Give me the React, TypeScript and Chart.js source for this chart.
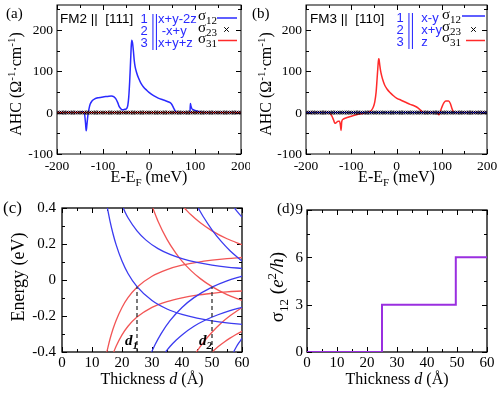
import React, { useEffect, useRef } from 'react';
import { Chart, registerables } from 'chart.js';
Chart.register(...registerables);

const SERIF = '"Liberation Serif", "DejaVu Serif", "Times New Roman", serif';
const SANS = '"Liberation Sans", Arial, Helvetica, sans-serif';
Chart.defaults.font.family = SERIF;
const BLUE = '#2a2aff';
const RED = '#ff2a2a';
const C_BLUE = '#3b3bf0';
const C_RED = '#f25555';
const PURPLE = '#9a2fe0';

// ---------- panels (a)/(b): AHC vs E-EF ----------
const AHC_X_TICKS = [-200, -100, 0, 100, 200];
const AHC_X_MINOR = [-150, -50, 50, 150];
const AHC_Y_TICKS = [-100, 0, 100, 200];
const AHC_Y_MINOR = [-50, 50, 150, 250];

const A_ENERGY = [-200, -150, -147, -143, -140, -138, -136.5, -135, -133, -131, -128, -124, -118, -110, -100, -90, -82, -76, -72, -68, -64, -60, -56, -52, -48, -46, -44, -42, -40, -38.5, -37.5, -36, -34, -32, -30, -27, -23, -18, -12, -5, 0, 10, 20, 30, 40, 46, 50, 54, 57, 60, 66, 89, 90, 91, 93, 96, 100, 110, 120, 200];
const A_SIGMA12 = [0, 0, 1.5, 2, -4, -25, -44, -30, -8, 6, 20, 28, 33, 36, 38, 39, 40, 38, 33, 24, 13, 8, 7, 8, 11, 18, 38, 75, 125, 162, 175, 170, 150, 125, 110, 97, 84, 72, 62, 54, 49, 41, 35, 31, 27, 24, 19, 10, 4, 1, 0, 0, 22, 17, 10, 7, 5, 2, 0, 0];

const B_ENERGY = [-200, -150, -147, -143, -139, -136, -133, -129, -126, -124, -122.5, -121, -118, -112, -104, -95, -85, -75, -66, -60, -55, -51, -48, -45, -43, -41, -39.5, -38.5, -37, -35, -33, -30, -26, -21, -15, -8, 0, 10, 20, 30, 40, 48, 53, 57, 61, 66, 90, 93, 95, 98, 101, 105, 109, 115, 119, 122, 125, 128, 200];
const B_SIGMA31 = [0, 0, -2, -8, -18, -26, -24, -21, -21, -30, -43, -22, -16, -13, -10, -7, -4, -2, 0, 2, 6, 14, 26, 50, 80, 112, 130, 128, 115, 100, 90, 78, 66, 57, 49, 42, 35, 30, 25, 20, 16, 11, 6, 2.5, 0.5, 0, 0, -5, -4, 6, 15, 24, 28, 28, 22, 12, 3, 0, 0];

// energies at which the (zero) sigma_23 markers are drawn
const ZERO_ENERGY = [-200, -195, -190, -185, -180, -175, -170, -165, -160, -155, -150, -145, -140, -135, -130, -125, -120, -115, -110, -105, -100, -95, -90, -85, -80, -75, -70, -65, -60, -55, -50, -45, -40, -35, -30, -25, -20, -15, -10, -5, 0, 5, 10, 15, 20, 25, 30, 35, 40, 45, 50, 55, 60, 65, 70, 75, 80, 85, 90, 95, 100, 105, 110, 115, 120, 125, 130, 135, 140, 145, 150, 155, 160, 165, 170, 175, 180, 185, 190, 195, 200];
const ZERO_LINE_E = [-200, 200];

// ---------- panel (c): quantum-well levels vs thickness ----------
const THICK_TICKS = [0, 10, 20, 30, 40, 50, 60];
const THICK_MINOR = [5, 15, 25, 35, 45, 55];
const C_Y_TICKS = [-0.4, -0.2, 0, 0.2, 0.4];
const C_Y_MINOR = [-0.3, -0.1, 0.1, 0.3];

const C_BLUE_1: [number, number][] = [[15.13, 0.4], [16, 0.327], [17, 0.257], [18, 0.198], [20, 0.105], [22, 0.036], [25, -0.037], [30, -0.114], [35, -0.161], [40, -0.191], [45, -0.212], [50, -0.227], [55, -0.238], [60, -0.246]];
const C_BLUE_2: [number, number][] = [[20.4, 0.4], [21, 0.378], [22, 0.346], [25, 0.273], [28, 0.2215], [32, 0.174], [36, 0.142], [40, 0.119], [45, 0.098], [50, 0.083], [55, 0.072], [60, 0.064]];
const C_BLUE_3: [number, number][] = [[45.4, 0.4], [47, 0.354], [50, 0.279], [53, 0.216], [56, 0.163], [60, 0.105]];
const C_BLUE_4: [number, number][] = [[57.5, 0.4], [58.5, 0.378], [60, 0.35]];
const C_BLUE_5: [number, number][] = [[29.88, -0.4], [31, -0.36], [33, -0.299], [36, -0.226], [40, -0.1525], [44, -0.098], [50, -0.04], [55, -0.005], [60, 0.021]];
const C_BLUE_6: [number, number][] = [[34.5, -0.4], [36, -0.3695], [38, -0.335], [40, -0.305], [44, -0.257], [48, -0.221], [52, -0.193], [56, -0.17], [60, -0.152]];
const C_BLUE_7: [number, number][] = [[57.2, -0.4], [58.5, -0.36], [60, -0.325]];
const C_RED_1: [number, number][] = [[30.26, 0.4], [32, 0.327], [35, 0.226], [38, 0.148], [40, 0.105], [43, 0.052], [46, 0.009], [50, -0.037], [55, -0.081], [60, -0.114]];
const C_RED_2: [number, number][] = [[40.8, 0.4], [43, 0.362], [46, 0.319], [50, 0.273], [55, 0.229], [60, 0.196]];
const C_RED_3: [number, number][] = [[14.94, -0.4], [16, -0.328], [17, -0.2725], [18, -0.226], [20, -0.1525], [22, -0.098], [25, -0.04], [30, 0.021], [35, 0.058], [40, 0.082], [45, 0.098], [50, 0.11], [55, 0.119], [60, 0.125]];
const C_RED_4: [number, number][] = [[44.8, -0.4], [46, -0.372], [48, -0.328], [50, -0.29], [53, -0.2405], [56, -0.199], [60, -0.1525]];
const C_RED_5: [number, number][] = [[17.24, -0.4], [18, -0.3695], [20, -0.305], [22, -0.257], [25, -0.206], [30, -0.152], [35, -0.12], [40, -0.099], [45, -0.084], [50, -0.074], [55, -0.066], [60, -0.061]];
const C_RED_6: [number, number][] = [[50, -0.4], [52, -0.371], [54, -0.346], [56, -0.323], [58, -0.303], [60, -0.285]];
const C_DASH_1: [number, number][] = [[25, -0.4], [25, -0.038]];
const C_DASH_2: [number, number][] = [[50, -0.4], [50, -0.038]];

// ---------- panel (d): sigma_12 staircase ----------
const D_Y_TICKS = [0, 3, 6, 9];
const D_Y_MINOR = [1.5, 4.5, 7.5];
const D_THICK = [0, 25, 49.6, 60];
const D_SIGMA = [0, 3, 6, 6];

// ---------- helpers ----------
type Seg = { t: string; sub?: boolean; sup?: boolean; it?: boolean; b?: boolean };

function drawRich(ctx: CanvasRenderingContext2D, segs: Seg[], x: number, y: number, size: number, family: string, color: string, align: 'left' | 'center' | 'right' = 'left', rot = 0) {
  ctx.save();
  ctx.translate(x, y);
  ctx.rotate(rot);
  const fontOf = (s: Seg) => `${s.it ? 'italic ' : ''}${s.b ? 'bold ' : ''}${(s.sub || s.sup) ? Math.round(size * 0.7) : size}px ${family}`;
  let w = 0;
  for (const s of segs) { ctx.font = fontOf(s); w += ctx.measureText(s.t).width; }
  let cx = align === 'center' ? -w / 2 : align === 'right' ? -w : 0;
  ctx.fillStyle = color;
  ctx.textBaseline = 'alphabetic';
  ctx.textAlign = 'left';
  for (const s of segs) {
    ctx.font = fontOf(s);
    const dy = s.sub ? size * 0.28 : s.sup ? -size * 0.38 : 0;
    ctx.fillText(s.t, cx, dy);
    cx += ctx.measureText(s.t).width;
  }
  ctx.restore();
}

function hline(ctx: CanvasRenderingContext2D, x1: number, x2: number, y: number, color: string, lw: number) {
  ctx.save(); ctx.strokeStyle = color; ctx.lineWidth = lw;
  ctx.beginPath(); ctx.moveTo(x1, y); ctx.lineTo(x2, y); ctx.stroke(); ctx.restore();
}
function cross(ctx: CanvasRenderingContext2D, x: number, y: number, r: number) {
  ctx.save(); ctx.strokeStyle = '#000'; ctx.lineWidth = 1;
  ctx.beginPath(); ctx.moveTo(x - r, y - r); ctx.lineTo(x + r, y + r); ctx.moveTo(x + r, y - r); ctx.lineTo(x - r, y + r); ctx.stroke(); ctx.restore();
}

const pairs = (a: [number, number][]) => a.map(([x, y]) => ({ x, y }));
const zip = (xs: number[], ys: number[]) => xs.map((x, i) => ({ x, y: ys[i] }));

type Spec = {
  xMin: number; xMax: number; yMin: number; yMax: number;
  xTicks: number[]; xMinor: number[]; yTicks: number[]; yMinor: number[];
  leftW: number; bottomH: number; padTop: number; padRight: number;
  tickSize: number; xLabelBase: number; yLabelPad: number; frameW: number;
  datasets: any[];
  text: (ctx: CanvasRenderingContext2D) => void;
};

function makeConfig(s: Spec): any {
  const framePlugin = {
    id: 'frameTicks',
    beforeDatasetsDraw(chart: any) {
      const ctx = chart.ctx as CanvasRenderingContext2D;
      const { left, right, top, bottom } = chart.chartArea;
      const xs = chart.scales.x, ys = chart.scales.y;
      ctx.save();
      ctx.strokeStyle = '#000';
      ctx.lineWidth = s.frameW;
      ctx.strokeRect(left, top, right - left, bottom - top);
      ctx.lineWidth = 1;
      ctx.beginPath();
      const tx = (v: number, len: number) => { const p = Math.round(xs.getPixelForValue(v)) + 0.5; ctx.moveTo(p, bottom); ctx.lineTo(p, bottom - len); ctx.moveTo(p, top); ctx.lineTo(p, top + len); };
      const ty = (v: number, len: number) => { const p = Math.round(ys.getPixelForValue(v)) + 0.5; ctx.moveTo(left, p); ctx.lineTo(left + len, p); ctx.moveTo(right, p); ctx.lineTo(right - len, p); };
      s.xTicks.forEach(v => tx(v, 5)); s.xMinor.forEach(v => tx(v, 3));
      s.yTicks.forEach(v => ty(v, 5)); s.yMinor.forEach(v => ty(v, 3));
      ctx.stroke();
      // tick labels
      ctx.fillStyle = '#000';
      ctx.font = `${s.tickSize}px ${SERIF}`;
      ctx.textAlign = 'center';
      ctx.textBaseline = 'alphabetic';
      s.xTicks.forEach(v => ctx.fillText(String(v), xs.getPixelForValue(v), bottom + s.xLabelBase));
      ctx.textAlign = 'right';
      ctx.textBaseline = 'middle';
      s.yTicks.forEach(v => ctx.fillText(String(v), left - s.yLabelPad, ys.getPixelForValue(v) + 0.5));
      ctx.restore();
    },
    afterDraw(chart: any) { s.text(chart.ctx); },
  };
  const common = {
    type: 'linear',
    grid: { display: false, drawTicks: false },
    border: { display: false },
    ticks: { display: false },
  };
  return {
    type: 'scatter',
    data: { datasets: s.datasets },
    plugins: [framePlugin],
    options: {
      responsive: false, animation: false, devicePixelRatio: 1, events: [],
      layout: { padding: { left: 0, top: s.padTop, right: s.padRight, bottom: 0 } },
      plugins: { legend: { display: false }, tooltip: { enabled: false } },
      scales: {
        x: {
          ...common, min: s.xMin, max: s.xMax,
          afterFit: (sc: any) => { sc.height = s.bottomH; sc.paddingLeft = 0; sc.paddingRight = 0; },
        },
        y: {
          ...common, min: s.yMin, max: s.yMax,
          afterFit: (sc: any) => { sc.width = s.leftW; sc.paddingTop = 0; sc.paddingBottom = 0; },
        },
      },
    },
  };
}

const lineDs = (data: any[], color: string, width: number, order: number, extra: any = {}) => ({
  data, showLine: true, borderColor: color, backgroundColor: color, borderWidth: width,
  pointRadius: 0, cubicInterpolationMode: 'monotone', tension: 0.4, order, ...extra,
});
const crossDs = (order: number) => ({
  data: ZERO_ENERGY.map(e => ({ x: e, y: 0 })), showLine: false, pointStyle: 'crossRot',
  pointRadius: 2.6, borderColor: '#000', borderWidth: 1, order,
});

const ahcAxisText = (ctx: CanvasRenderingContext2D, cx: number) => {
  drawRich(ctx, [{ t: 'E-E' }, { t: 'F', sub: true }, { t: ' (meV)' }], cx, 182, 16, SERIF, '#000', 'center');
  drawRich(ctx, [{ t: 'AHC (Ω' }, { t: '-1', sup: true }, { t: '·cm' }, { t: '-1', sup: true }, { t: ')' }], 21, 84, 16, SERIF, '#000', 'center', -Math.PI / 2);
};

const specA: Spec = {
  xMin: -200, xMax: 200, yMin: -100, yMax: 260,
  xTicks: AHC_X_TICKS, xMinor: AHC_X_MINOR, yTicks: AHC_Y_TICKS, yMinor: AHC_Y_MINOR,
  leftW: 57, bottomH: 43, padTop: 4, padRight: 9, tickSize: 13.5, xLabelBase: 16, yLabelPad: 4, frameW: 1,
  datasets: [
    crossDs(0),
    lineDs(zip(ZERO_LINE_E, [0, 0]), RED, 1.5, 1),
    lineDs(zip(A_ENERGY, A_SIGMA12), BLUE, 1.5, 2),
  ],
  text: (ctx) => {
    drawRich(ctx, [{ t: '(a)' }], 6, 18, 15, SERIF, '#000');
    drawRich(ctx, [{ t: 'FM2 ||  [111]' }], 60, 23, 13.5, SANS, '#000');
    drawRich(ctx, [{ t: '1 ||x+y-2z' }], 140.5, 22.5, 13, SANS, BLUE);
    drawRich(ctx, [{ t: '2 || -x+y' }], 140.5, 34.5, 13, SANS, BLUE);
    drawRich(ctx, [{ t: '3 ||x+y+z' }], 140.5, 46.5, 13, SANS, BLUE);
    drawRich(ctx, [{ t: 'σ' }, { t: '12', sub: true }], 198, 20, 15, SERIF, '#000');
    hline(ctx, 217, 237, 18, BLUE, 1.5);
    drawRich(ctx, [{ t: 'σ' }, { t: '23', sub: true }], 198, 32, 15, SERIF, '#000');
    cross(ctx, 226.5, 29.5, 2.3);
    drawRich(ctx, [{ t: 'σ' }, { t: '31', sub: true }], 198, 43, 15, SERIF, '#000');
    hline(ctx, 218, 237, 40.5, RED, 1.5);
    ahcAxisText(ctx, 149);
  },
};

const specB: Spec = {
  ...specA,
  leftW: 56, padRight: 13,
  datasets: [
    crossDs(0),
    lineDs(zip(ZERO_LINE_E, [0, 0]), BLUE, 1.5, 1),
    lineDs(zip(B_ENERGY, B_SIGMA31), RED, 1.5, 2),
  ],
  text: (ctx) => {
    drawRich(ctx, [{ t: '(b)' }], 2, 18, 15, SERIF, '#000');
    drawRich(ctx, [{ t: 'FM3 ||  [110]' }], 60, 23, 13.5, SANS, '#000');
    drawRich(ctx, [{ t: '1 ||  x-y' }], 146.5, 22, 13, SANS, BLUE);
    drawRich(ctx, [{ t: '2 ||  x+y' }], 146.5, 34, 13, SANS, BLUE);
    drawRich(ctx, [{ t: '3 ||  z' }], 146.5, 45.5, 13, SANS, BLUE);
    drawRich(ctx, [{ t: 'σ' }, { t: '12', sub: true }], 192, 19, 15, SERIF, '#000');
    hline(ctx, 212, 235, 16, BLUE, 1.5);
    drawRich(ctx, [{ t: 'σ' }, { t: '23', sub: true }], 192, 31, 15, SERIF, '#000');
    cross(ctx, 223.5, 29.5, 2.3);
    drawRich(ctx, [{ t: 'σ' }, { t: '31', sub: true }], 192, 42, 15, SERIF, '#000');
    hline(ctx, 216, 235, 40.5, RED, 1.5);
    ahcAxisText(ctx, 146.5);
  },
};

const specC: Spec = {
  xMin: 0, xMax: 60, yMin: -0.4, yMax: 0.4,
  xTicks: THICK_TICKS, xMinor: THICK_MINOR, yTicks: C_Y_TICKS, yMinor: C_Y_MINOR,
  leftW: 62, bottomH: 41, padTop: 11, padRight: 8, tickSize: 15, xLabelBase: 15, yLabelPad: 6, frameW: 1.3,
  datasets: [
    lineDs(pairs(C_DASH_1), '#333', 1.3, 0, { borderDash: [4, 3], cubicInterpolationMode: 'default', tension: 0 }),
    lineDs(pairs(C_DASH_2), '#333', 1.3, 0, { borderDash: [4, 3], cubicInterpolationMode: 'default', tension: 0 }),
    ...[C_BLUE_1, C_BLUE_2, C_BLUE_3, C_BLUE_4, C_BLUE_5, C_BLUE_6, C_BLUE_7].map(c => lineDs(pairs(c), C_BLUE, 1.3, 1)),
    ...[C_RED_1, C_RED_2, C_RED_3, C_RED_4, C_RED_5, C_RED_6].map(c => lineDs(pairs(c), C_RED, 1.3, 1)),
  ],
  text: (ctx) => {
    drawRich(ctx, [{ t: '(c)' }], 3, 16, 17, SERIF, '#000');
    drawRich(ctx, [{ t: 'd', it: true, b: true }, { t: '1', sub: true, it: true, b: true }], 125, 148, 15, SERIF, '#000');
    drawRich(ctx, [{ t: 'd', it: true, b: true }, { t: '2', sub: true, it: true, b: true }], 199, 148, 15, SERIF, '#000');
    drawRich(ctx, [{ t: 'Thickness ' }, { t: 'd', it: true }, { t: ' (Å)' }], 152, 187, 16, SERIF, '#000', 'center');
    drawRich(ctx, [{ t: 'Energy (eV)' }], 24, 80, 18, SERIF, '#000', 'center', -Math.PI / 2);
  },
};

const specD: Spec = {
  xMin: 0, xMax: 60, yMin: 0, yMax: 9,
  xTicks: THICK_TICKS, xMinor: THICK_MINOR, yTicks: D_Y_TICKS, yMinor: D_Y_MINOR,
  leftW: 57, bottomH: 41, padTop: 13, padRight: 13, tickSize: 15, xLabelBase: 15, yLabelPad: 4, frameW: 1.3,
  datasets: [
    lineDs(zip(D_THICK, D_SIGMA), PURPLE, 2, 0, { stepped: 'before', cubicInterpolationMode: 'default', tension: 0 }),
  ],
  text: (ctx) => {
    drawRich(ctx, [{ t: '(d)' }], 27, 16, 15, SERIF, '#000');
    drawRich(ctx, [{ t: 'Thickness ' }, { t: 'd', it: true }, { t: ' (Å)' }], 147, 187, 16, SERIF, '#000', 'center');
    drawRich(ctx, [{ t: 'σ' }, { t: '12', sub: true }, { t: ' (' }, { t: 'e', it: true }, { t: '2', sup: true }, { t: '/', it: true }, { t: 'h', it: true }, { t: ')' }], 33, 90, 19, SERIF, '#000', 'center', -Math.PI / 2);
  },
};

function ChartBox({ left, top, width, height, spec }: { left: number; top: number; width: number; height: number; spec: Spec }) {
  const ref = useRef<HTMLCanvasElement>(null);
  useEffect(() => {
    const chart = new Chart(ref.current as HTMLCanvasElement, makeConfig(spec));
    return () => chart.destroy();
  }, []);
  return <canvas ref={ref} width={width} height={height} style={{ position: 'absolute', left, top, width, height }} />;
}

export default function App() {
  return (
    <div style={{ position: 'absolute', left: 0, top: 0, width: 500, height: 393, background: '#fff', overflow: 'hidden' }}>
      <ChartBox left={0} top={0} width={250} height={197} spec={specA} />
      <ChartBox left={250} top={0} width={250} height={197} spec={specB} />
      <ChartBox left={0} top={197} width={250} height={196} spec={specC} />
      <ChartBox left={250} top={197} width={250} height={196} spec={specD} />
    </div>
  );
}
